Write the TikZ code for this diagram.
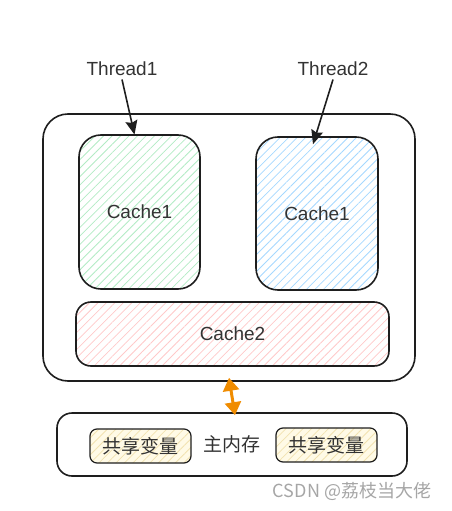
\documentclass[tikz,border=0pt]{standalone}
\usepackage{fontspec}
\setmainfont{Liberation Sans}
\newfontfamily\cjk{Noto Sans CJK SC}
\usepackage{xcolor}
\usetikzlibrary{arrows.meta,positioning,patterns.meta}
\definecolor{ink}{HTML}{1E1E1E}
\definecolor{txt}{HTML}{333333}
\definecolor{hgreen}{HTML}{B2EBC4}
\definecolor{hblue}{HTML}{A5D8FF}
\definecolor{hred}{HTML}{FFC9C9}
\definecolor{hyel}{HTML}{F2E2B0}
\definecolor{fyel}{HTML}{FFFAE6}
\definecolor{arr}{HTML}{F08C00}
\tikzset{
  box/.style={rectangle,draw=ink,line width=1.6pt,rounded corners=#1,inner sep=0pt,text=txt},
  box/.default=15pt,
  hatch/.style={pattern={Lines[angle=45,distance=6pt,line width=0.8pt]},pattern color=#1},
}

\begin{document}
\begin{tikzpicture}[x=1pt,y=-1pt,font=\fontsize{19}{22}\selectfont,
  ar/.style={-{Stealth[length=14pt,width=12pt,inset=2pt]},line width=1.6pt,draw=ink},
  dar/.style={{Triangle[length=13pt,width=16pt]}-{Triangle[length=13pt,width=16pt]},line width=3pt,draw=arr,fill=arr}]
  \useasboundingbox (0,0) rectangle (452,511);
  % outer frame with the caches
  \node[box=25pt,minimum width=372pt,minimum height=267pt] (cpu) at (229,247.5) {};
  \node[box=22pt,hatch=hgreen,minimum width=121pt,minimum height=154pt] (c1) at (139.5,212) {Cache1};
  \node[box=22pt,hatch=hblue,minimum width=122pt,minimum height=153pt] (c1b) at (317,213.5) {Cache1};
  \node[box,hatch=hred,minimum width=313pt,minimum height=64pt] (c2) at (232.5,334) {Cache2};
  % threads
  \node[text=txt] (t1) at (122,69) {Thread1};
  \node[text=txt] (t2) at (333,69) {Thread2};
  \draw[ar] (t1.south) -- ([xshift=-5pt]c1.north);
  \draw[ar] (t2.south) -- ([xshift=-4pt,yshift=-8pt]c1b.north);
  % main memory
  \node[box,minimum width=350pt,minimum height=63pt] (mem) at (232,444.5) {};
  \node[text=txt,font=\cjk\fontsize{19}{22}\selectfont] (ml) at (232,444) {主内存};
  \node[box=7pt,preaction={fill=fyel},hatch=hyel,minimum width=101pt,minimum height=34pt,
    font=\cjk\fontsize{19}{22}\selectfont,line width=1.2pt] (v1) at (140.5,446) {共享变量};
  \node[box=7pt,preaction={fill=fyel},hatch=hyel,minimum width=101pt,minimum height=34pt,
    font=\cjk\fontsize{19}{22}\selectfont,line width=1.2pt] (v2) at (326.5,445) {共享变量};
  \draw[dar] ([yshift=4pt]cpu.south) -- ([xshift=3pt,yshift=-3pt]mem.north);
  % watermark
  \node[text=gray!70,font=\cjk\fontsize{18}{20}\selectfont] (wm) at (352,491) {CSDN @荔枝当大佬};
\end{tikzpicture}
\end{document}
